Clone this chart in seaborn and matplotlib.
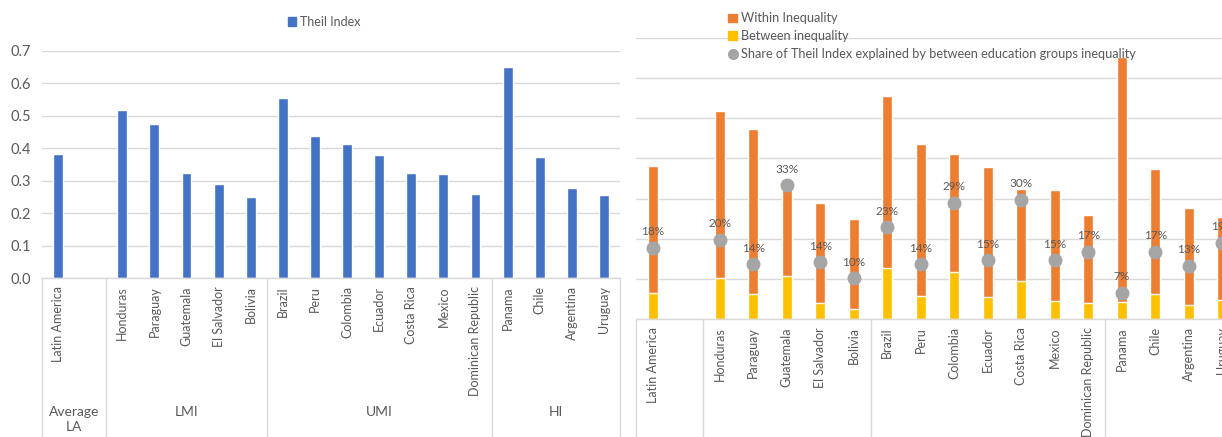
import pandas as pd
import matplotlib
matplotlib.use('Agg')
import matplotlib.pyplot as plt
import seaborn as sns
from matplotlib.patches import Patch
from matplotlib.lines import Line2D
from matplotlib.transforms import blended_transform_factory

# categories (the blank one is the empty slot of the "Average LA" group)
countries = ['Latin America', '', 'Honduras', 'Paraguay', 'Guatemala', 'El Salvador', 'Bolivia',
             'Brazil', 'Peru', 'Colombia', 'Ecuador', 'Costa Rica', 'Mexico', 'Dominican Republic',
             'Panama', 'Chile', 'Argentina', 'Uruguay']
groups = ['Average\nLA', 'LMI', 'UMI', 'HI']
group_bounds = [(-0.5, 1.5), (1.5, 6.5), (6.5, 13.5), (13.5, 17.5)]

names = [c for c in countries if c]
theil = [0.381, 0.517, 0.474, 0.325, 0.290, 0.249, 0.556, 0.437, 0.412, 0.379, 0.325, 0.321,
         0.258, 0.652, 0.373, 0.277, 0.255]
between = [0.066, 0.103, 0.063, 0.108, 0.041, 0.024, 0.127, 0.058, 0.118, 0.055, 0.095, 0.046,
           0.041, 0.042, 0.062, 0.036, 0.047]
within = [0.315, 0.414, 0.411, 0.217, 0.249, 0.225, 0.429, 0.379, 0.294, 0.324, 0.230, 0.275,
          0.217, 0.610, 0.311, 0.241, 0.208]
share = [0.178, 0.198, 0.137, 0.334, 0.142, 0.101, 0.228, 0.137, 0.290, 0.147, 0.297, 0.146,
         0.168, 0.066, 0.168, 0.133, 0.19]

df = pd.DataFrame({'country': names, 'theil': theil, 'between': between,
                   'within': within, 'share': share})
df['total'] = df['within'] + df['between']

BLUE = '#4472C4'
ORANGE = '#ED7D31'
YELLOW = '#FFC000'
GREY = '#A5A5A5'
TXT = '#595959'
GRID = '#D9D9D9'

sns.set_style('white')
plt.rcParams['font.family'] = ['Lato', 'DejaVu Sans']

W, H = 1222, 437
fig = plt.figure(figsize=(W / 100, H / 100), dpi=100)


def px_axes(left, top, right, bottom):
    return fig.add_axes([left / W, 1 - bottom / H, (right - left) / W, (bottom - top) / H])


def style_axis(ax, bottom_px, show_groups):
    ax.set_xlim(-0.5, 17.5)
    ax.set_ylim(0, 0.7)
    ax.set_yticks([i / 10 for i in range(8)])
    ax.yaxis.grid(True, color=GRID, linewidth=1)
    ax.set_axisbelow(True)
    for s in ['left', 'right', 'top']:
        ax.spines[s].set_visible(False)
    ax.spines['bottom'].set_color(GRID)
    ax.spines['bottom'].set_linewidth(1)
    ax.set_xticks(range(len(countries)))
    ax.set_xticklabels(countries, rotation=90, va='top', ha='center', fontsize=9, color=TXT)
    ax.tick_params(axis='x', length=0, pad=6)
    ax.tick_params(axis='y', length=0, labelsize=10.5, labelcolor=TXT, pad=8)
    ax.set_xlabel('')
    ax.set_ylabel('')
    # group separators below the axis
    tr = blended_transform_factory(ax.transData, fig.transFigure)
    y0 = 1 - bottom_px / H
    for b in [-0.5, 1.5, 6.5, 13.5, 17.5]:
        fig.add_artist(Line2D([b, b], [y0, 0], transform=tr, color=GRID, linewidth=1))
    if show_groups:
        for g, (a, b) in zip(groups, group_bounds):
            fig.text((a + b) / 2, 1 - 406 / H, g, transform=tr, ha='center', va='top',
                     fontsize=10, color=TXT, linespacing=1.3)


# ---- left chart: Theil index ----
ax1 = px_axes(42, 51, 620, 278)
sns.barplot(data=df, x='country', y='theil', order=countries, color=BLUE, saturation=1,
            width=0.31, ax=ax1)
style_axis(ax1, 278, True)
ax1.set_yticklabels([f'{i / 10:.1f}' for i in range(8)])
fig.legend(handles=[Patch(color=BLUE, label='Theil Index')], loc='center',
           bbox_to_anchor=(324 / W, 1 - 22 / H), frameon=False, fontsize=9,
           handlelength=0.65, handleheight=0.65, handletextpad=0.3, labelcolor=TXT)

# ---- right chart: decomposition ----
ax2 = px_axes(636, 38, 636 + 18 * 33.5, 319)
sns.barplot(data=df, x='country', y='total', order=countries, color=ORANGE, saturation=1,
            width=0.31, ax=ax2)
sns.barplot(data=df, x='country', y='between', order=countries, color=YELLOW, saturation=1,
            width=0.31, ax=ax2)
sns.pointplot(data=df, x='country', y='share', order=countries, color=GREY, linestyle='none',
              markers='o', markersize=8, errorbar=None, ax=ax2, zorder=4)
style_axis(ax2, 319, False)
ax2.set_yticklabels([])
for i, c in enumerate(countries):
    if not c:
        continue
    v = df.loc[df['country'] == c, 'share'].iloc[0]
    ax2.annotate(f'{v:.0%}', (i, v), xytext=(0, 7.5), textcoords='offset points',
                 ha='center', va='bottom', fontsize=8.5, color=TXT, zorder=5)

fig.legend(handles=[Patch(color=ORANGE, label='Within Inequality'),
                    Patch(color=YELLOW, label='Between inequality'),
                    Line2D([], [], marker='o', linestyle='none', color=GREY, markersize=7,
                           label='Share of Theil Index explained by between education groups inequality')],
           loc='upper left', bbox_to_anchor=(722 / W, 1 - 6 / H), frameon=False, fontsize=9.2,
           handlelength=0.65, handleheight=0.65, handletextpad=0.3, labelcolor=TXT,
           labelspacing=0.45, borderpad=0)

fig.savefig('out.png', dpi=100)
